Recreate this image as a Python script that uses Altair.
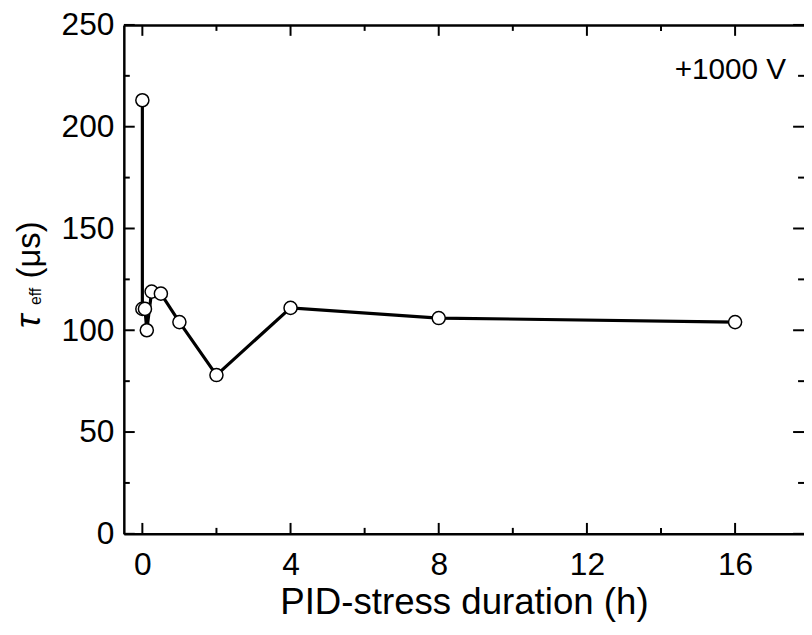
import altair as alt
import pandas as pd

# data
hours = [0, 0, 0.07, 0.12, 0.25, 0.5, 1, 2, 4, 8, 16]
tau_eff = [213, 110.5, 110.5, 100, 119, 118, 104, 78, 111, 106, 104]

x_major = [0, 4, 8, 12, 16]
x_minor = [2, 6, 10, 14]
y_major = [0, 50, 100, 150, 200, 250]
y_minor = [25, 75, 125, 175, 225]

W, H = 687, 514
FONT = "Liberation Sans"

df = pd.DataFrame({"h": hours, "tau": tau_eff, "order": list(range(len(hours)))})

xs = alt.Scale(domain=[-0.5, 17.86], nice=False, zero=False)
ys = alt.Scale(domain=[0, 250], nice=False, zero=False)

x_axis = alt.Axis(values=x_major, ticks=False, tickSize=0, grid=False, domain=True,
                  labelFontSize=32, labelPadding=16, title="PID-stress duration (h)",
                  titleFontSize=37, titleFontWeight="normal", titlePadding=4,
                  labelFont=FONT, titleFont=FONT, orient="bottom")
y_axis = alt.Axis(values=y_major, ticks=False, tickSize=0, grid=False, domain=True,
                  labelFontSize=32, labelPadding=10, title=None, labelFont=FONT,
                  orient="left")

line = alt.Chart(df).mark_line(color="black", strokeWidth=3.2).encode(
    x=alt.X("h:Q", scale=xs, axis=x_axis),
    y=alt.Y("tau:Q", scale=ys, axis=y_axis),
    order="order:Q",
)
points = alt.Chart(df).mark_point(shape="circle", filled=True, fill="white",
                                  stroke="black", strokeWidth=1.5, size=175,
                                  opacity=1).encode(
    x=alt.X("h:Q", scale=xs, axis=None),
    y=alt.Y("tau:Q", scale=ys, axis=None),
)

xmaj = pd.DataFrame({"v": x_major})
xmin = pd.DataFrame({"v": x_minor})
ymaj = pd.DataFrame({"v": y_major})
ymin = pd.DataFrame({"v": y_minor})

top_axis = alt.Axis(orient="top", labels=False, ticks=False, domain=True, grid=False, title=None)

def xticks(d, y0, y1, axis=None):
    return alt.Chart(d).mark_rule(color="black", strokeWidth=2).encode(
        x=alt.X("v:Q", scale=xs, axis=axis), y=alt.value(y0), y2=alt.value(y1))

def yticks(d, x0, x1):
    return alt.Chart(d).mark_rule(color="black", strokeWidth=2).encode(
        y=alt.Y("v:Q", scale=ys, axis=None), x=alt.value(x0), x2=alt.value(x1))

ticks = [
    xticks(xmaj, H, H - 11), xticks(xmin, H, H - 6),
    xticks(xmaj, 0, 11, axis=top_axis), xticks(xmin, 0, 6),
    yticks(ymaj, 0, 11), yticks(ymin, 0, 6),
    yticks(ymaj, W, W - 11), yticks(ymin, W, W - 6),
]

one = pd.DataFrame({"t": [""]})

def label(text, x, y, size, style="normal"):
    return alt.Chart(one).mark_text(text=text, font=FONT, fontSize=size, fontStyle=style,
                                    angle=270, align="left", baseline="alphabetic",
                                    color="black").encode(x=alt.value(x), y=alt.value(y))

ytitle = [
    label("τ", -85, 306, 36, "italic"),
    label("eff", -84, 283, 16),
    label("(μs)", -85, 256, 33),
]

volt = alt.Chart(one).mark_text(text="+1000 V", font=FONT, fontSize=30, align="right",
                                baseline="alphabetic", color="black").encode(
    x=alt.value(669), y=alt.value(55))

chart = alt.layer(line, *ticks, points, *ytitle, volt).resolve_axis(
    x="independent", y="independent"
).properties(
    width=W, height=H,
    autosize=alt.AutoSizeParams(type="none"),
    padding={"left": 117, "top": 14, "right": 0, "bottom": 90},
).configure_view(stroke=None).configure_axis(
    domainColor="black", domainWidth=2.5, labelColor="black", titleColor="black"
)

chart.save("out.html", embed_options={"renderer": "svg", "actions": False})
